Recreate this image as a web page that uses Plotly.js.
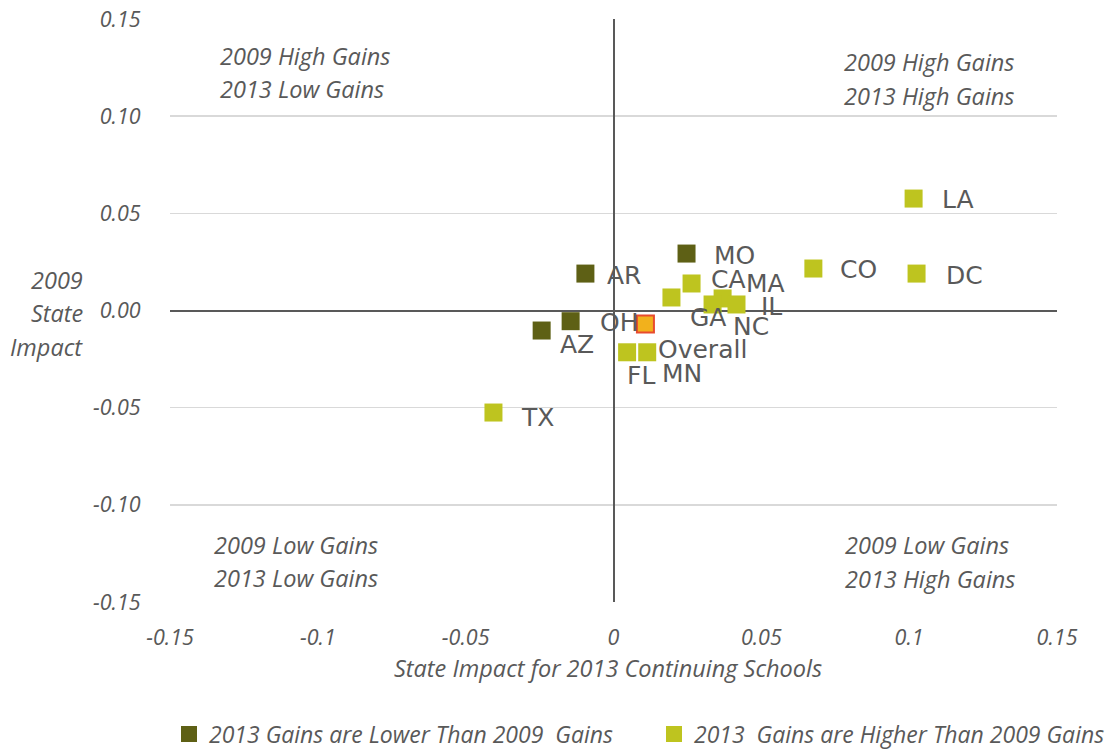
<!DOCTYPE html>
<html>
<head>
<meta charset="utf-8">
<script src="https://cdn.plot.ly/plotly-3.0.1.min.js"></script>
<style>html,body{margin:0;padding:0;background:#fff;}#chart{width:1112px;height:749px;}</style>
</head>
<body>
<div id="chart"></div>
<script>
// ---- data ----
const lowerStates = ["MO", "AR", "OH", "AZ"];
const lowerX = [0.0247, -0.0095, -0.0145, -0.0243];
const lowerY = [0.0293, 0.0190, -0.0055, -0.0103];

const higherStates = ["LA", "CO", "DC", "CA", "GA", "MA", "NC", "IL", "FL", "MN", "TX"];
const higherX = [0.1015, 0.0676, 0.1025, 0.0264, 0.0196, 0.0369, 0.0335, 0.0416, 0.0046, 0.0114, -0.0406];
const higherY = [0.0576, 0.0216, 0.0190, 0.0139, 0.0067, 0.0062, 0.0031, 0.0031, -0.0215, -0.0215, -0.0525];

const overallLabel = ["Overall"];
const overallX = [0.0108];
const overallY = [-0.0069];

const seriesNames = ["2013 Gains are Lower Than 2009  Gains", "2013  Gains are Higher Than 2009 Gains"];
const xTickVals = [-0.15, -0.1, -0.05, 0, 0.05, 0.1, 0.15];
const xTickText = ["-0.15", "-0.1", "-0.05", "0", "0.05", "0.1", "0.15"];
const yTickVals = [-0.15, -0.10, -0.05, 0, 0.05, 0.10, 0.15];
const yTickText = ["-0.15", "-0.10", "-0.05", "0.00", "0.05", "0.10", "0.15"];

// ---- label offsets (pixels, styling only) ----
const labelOffsets = {
  MO: [25, 2], AR: [20, 2], OH: [27, 1], AZ: [16, 14],
  LA: [26, 1], CO: [25, 1], DC: [27, 2], CA: [17, -4], GA: [17, 20], MA: [21, -15],
  NC: [18, 22], IL: [22, 2], FL: [-2, 23], MN: [13, 21], TX: [26, 5], Overall: [11, 26]
};

const grey = "#595959";
const tickFont = {family: "Open Sans, sans-serif", size: 21.5, color: grey, style: "italic"};
const italicFont = {family: "Open Sans, sans-serif", size: 23.5, color: grey, style: "italic"};
const legendFont = {family: "Open Sans, sans-serif", size: 23, color: grey, style: "italic"};
const labelFont = {family: "DejaVu Sans, sans-serif", size: 25, color: grey};
const darkCol = "#5E6015";
const lightCol = "#BEC41F";

const traces = [
  {x: lowerX, y: lowerY, name: seriesNames[0], type: "scatter", mode: "markers",
   marker: {symbol: "square", size: 18, color: darkCol}},
  {x: higherX, y: higherY, name: seriesNames[1], type: "scatter", mode: "markers",
   marker: {symbol: "square", size: 18, color: lightCol}},
  {x: overallX, y: overallY, name: "Overall", type: "scatter", mode: "markers", showlegend: false,
   marker: {symbol: "square", size: 17, color: "#F2B11C", line: {color: "#E84B2E", width: 2}}}
];

const annotations = [];
function addLabels(names, xs, ys) {
  names.forEach((n, i) => {
    const off = labelOffsets[n] || [20, 0];
    annotations.push({x: xs[i], y: ys[i], xref: "x", yref: "y", text: n, showarrow: false,
      xanchor: "left", yanchor: "middle", xshift: off[0], yshift: -off[1], font: labelFont});
  });
}
addLabels(lowerStates, lowerX, lowerY);
addLabels(higherStates, higherX, higherY);
addLabels(overallLabel, overallX, overallY);

// quadrant notes & y title (paper coords)
const L = 170, R = 1057, T = 19, B = 602;
function px(xp) { return (xp - L) / (R - L); }
function py(yp) { return (B - yp) / (B - T); }
const notes = [
  ["2009 High Gains", 218, 56], ["2013 Low Gains", 218, 89],
  ["2009 High Gains", 842, 62], ["2013 High Gains", 842, 96],
  ["2009 Low Gains", 212, 545], ["2013 Low Gains", 212, 578],
  ["2009 Low Gains", 843, 545], ["2013 High Gains", 843, 579]
];
notes.forEach(n => annotations.push({x: px(n[1]), y: py(n[2]), xref: "paper", yref: "paper",
  text: n[0], showarrow: false, xanchor: "left", yanchor: "middle", font: italicFont}));
const yTitle = [["2009", 280], ["State", 313], ["Impact", 347]];
yTitle.forEach(t => annotations.push({x: px(85), y: py(t[1]), xref: "paper", yref: "paper",
  text: t[0], showarrow: false, xanchor: "right", yanchor: "middle", font: italicFont}));
annotations.push({x: px(608), y: py(668), xref: "paper", yref: "paper",
  text: "State Impact for 2013 Continuing Schools", showarrow: false,
  xanchor: "center", yanchor: "middle", font: italicFont});

const layout = {
  width: 1112, height: 749,
  margin: {l: L, r: 1112 - R, t: T, b: 749 - B, pad: 0, autoexpand: false},
  paper_bgcolor: "#ffffff", plot_bgcolor: "#ffffff",
  showlegend: true,
  legend: {orientation: "h", x: px(169), xanchor: "left", entrywidth: 440,
    y: py(734), yanchor: "middle", font: legendFont, tracegroupgap: 0},
  xaxis: {range: [-0.15, 0.15], tickvals: xTickVals, ticktext: xTickText, showgrid: false,
    zeroline: true, zerolinecolor: grey, zerolinewidth: 2, showline: false, automargin: false,
    ticks: "outside", ticklen: 16, tickcolor: "rgba(0,0,0,0)", tickfont: tickFont},
  yaxis: {range: [-0.15, 0.15], tickvals: yTickVals, ticktext: yTickText, showgrid: true,
    gridcolor: "#D9D9D9", gridwidth: 1.5, zeroline: true, zerolinecolor: grey, zerolinewidth: 2,
    showline: false, automargin: false, ticks: "outside", ticklen: 24, tickcolor: "rgba(0,0,0,0)",
    tickfont: tickFont},
  annotations: annotations
};

Plotly.newPlot("chart", traces, layout, {displayModeBar: false, staticPlot: true});
</script>
</body>
</html>
